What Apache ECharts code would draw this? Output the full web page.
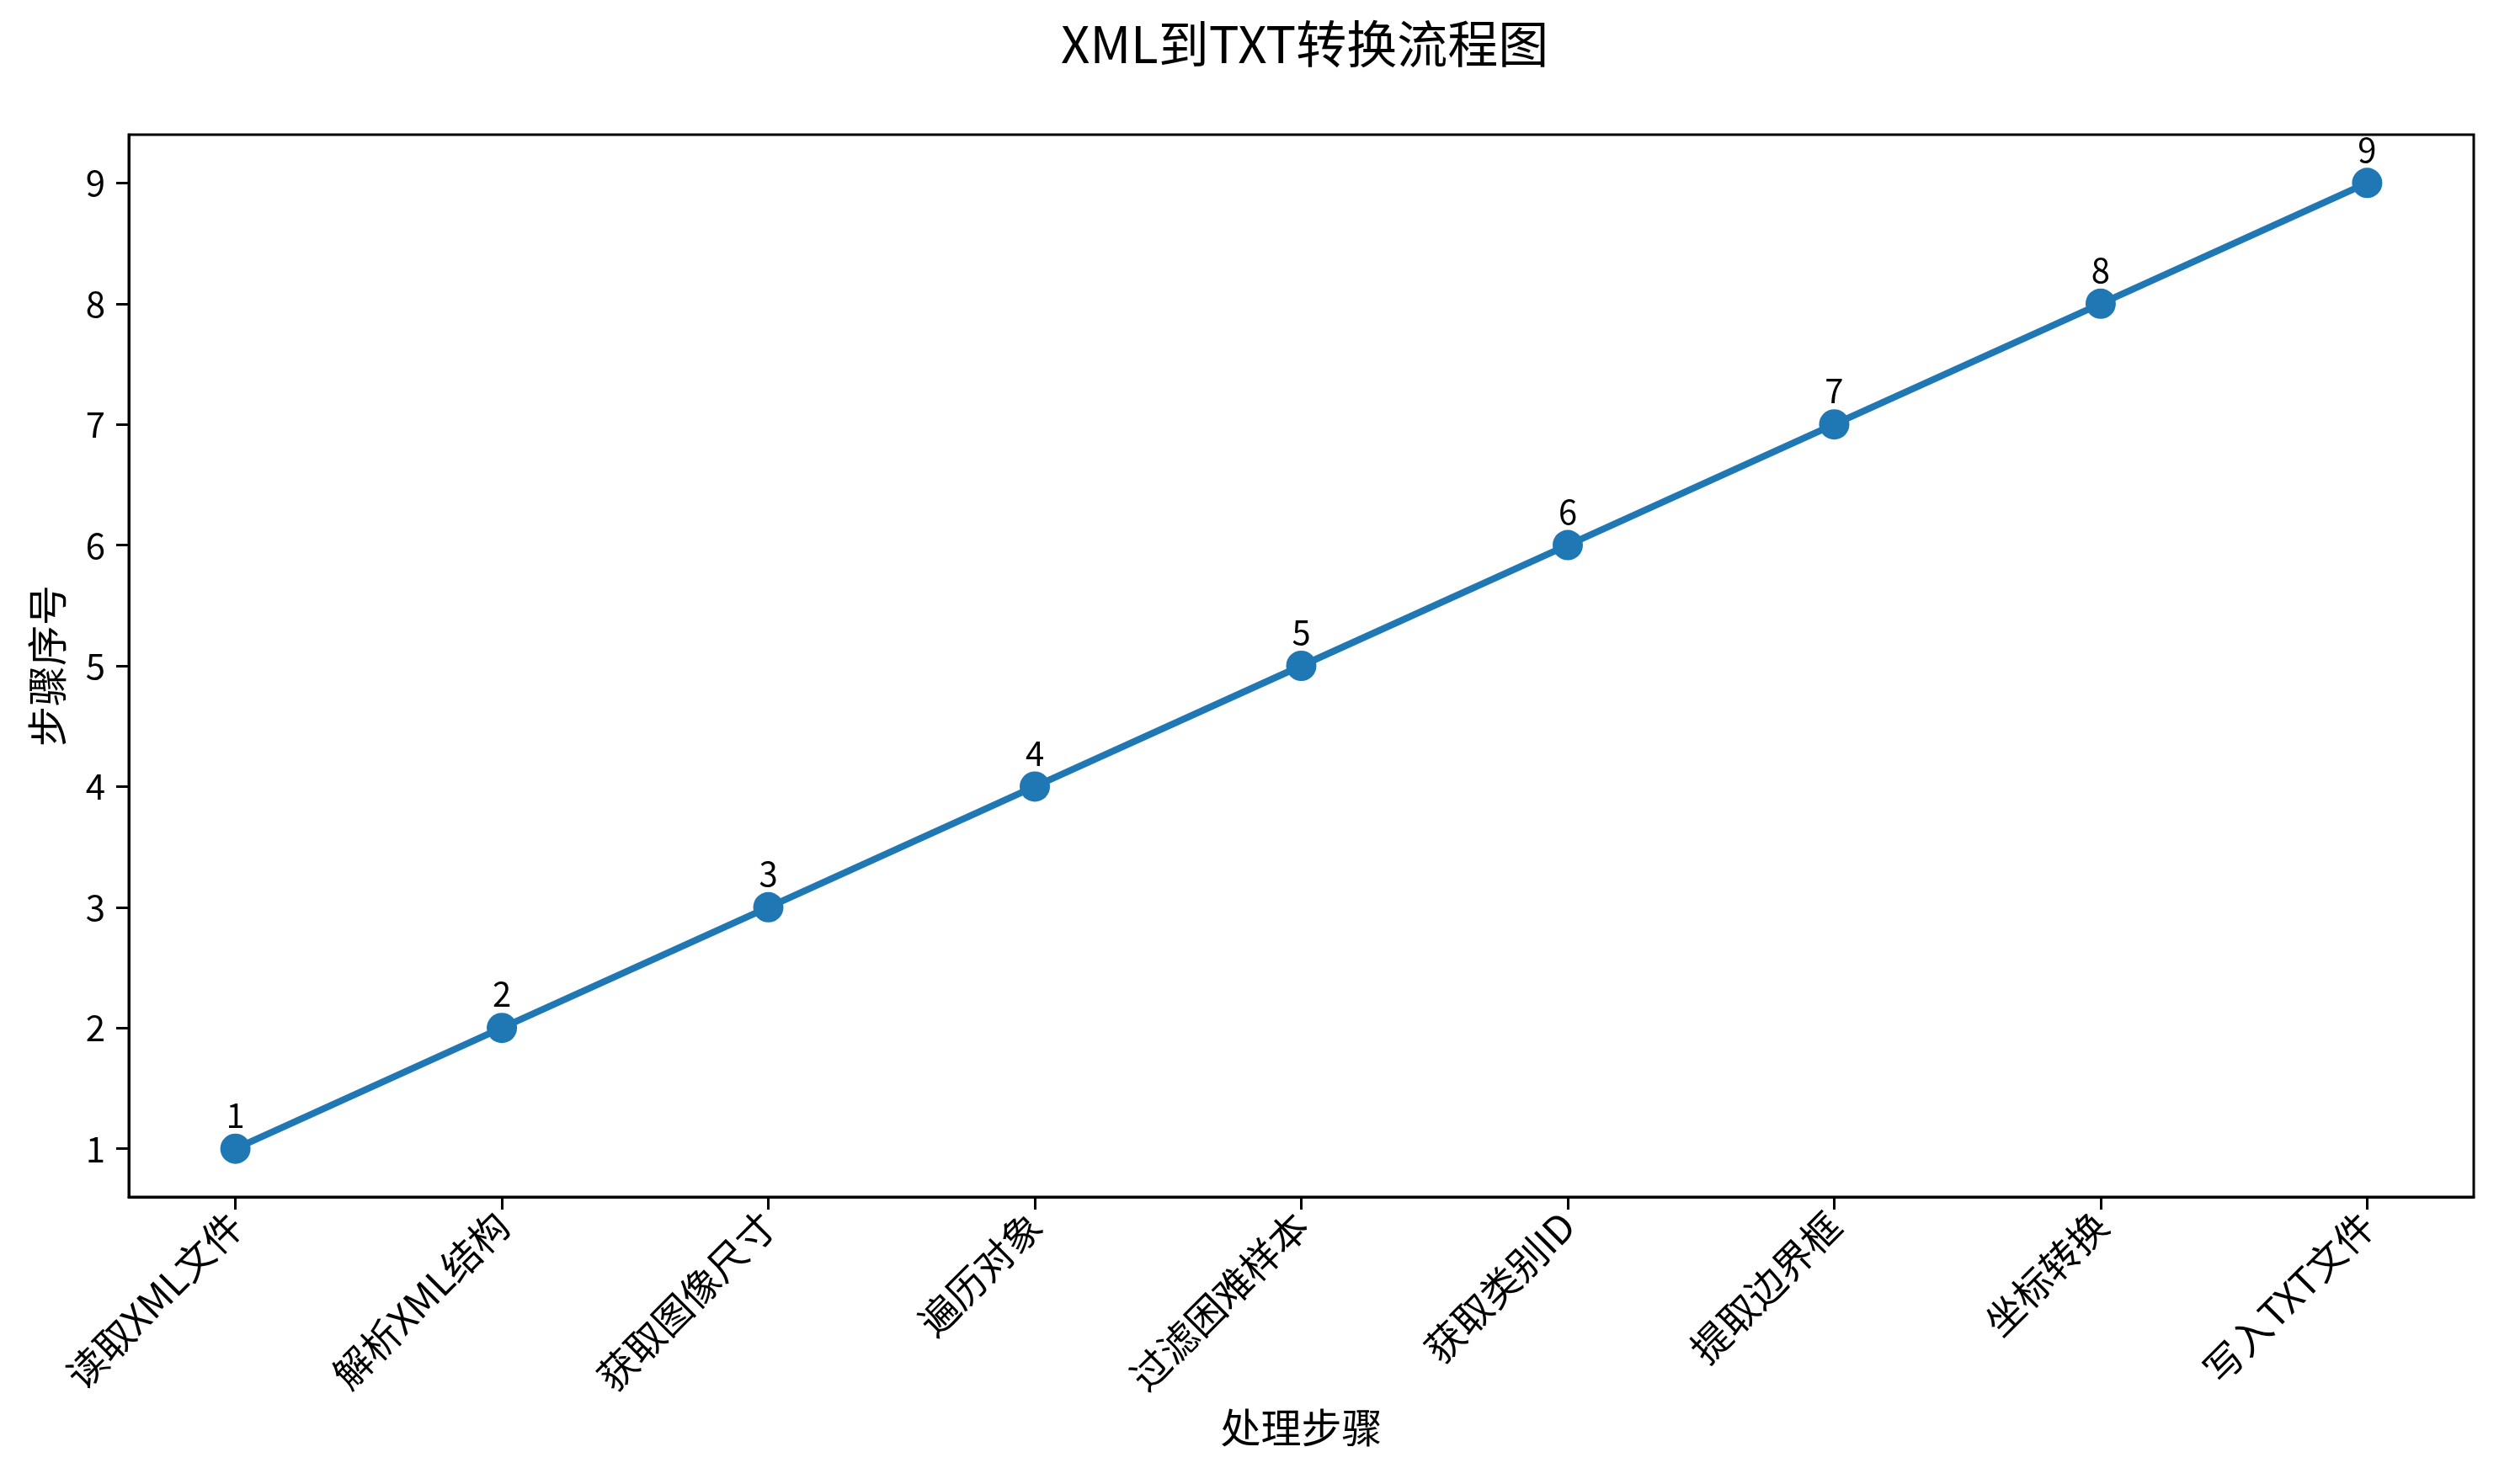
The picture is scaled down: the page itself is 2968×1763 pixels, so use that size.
<!DOCTYPE html>
<html><head><meta charset="utf-8">
<script src="https://cdn.jsdelivr.net/npm/echarts@6/dist/echarts.min.js"></script>
<style>html,body{margin:0;padding:0;background:#fff}#c{width:2968px;height:1763px}</style>
</head><body><div id="c"></div>
<script>
const categories = ['读取XML文件','解析XML结构','获取图像尺寸','遍历对象','过滤困难样本','获取类别ID','提取边界框','坐标转换','写入TXT文件'];
const stepValues = [1,2,3,4,5,6,7,8,9];
const yTicks = [1,2,3,4,5,6,7,8,9];
const xTicks = categories.map((c,i)=>i);

const FONT = '"Noto Sans CJK SC","Noto Sans",sans-serif';
const chart = echarts.init(document.getElementById('c'));
chart.setOption({
  backgroundColor:'#fff',
  animation:false,
  title:{text:'XML到TXT转换流程图', left:1260, top:22, padding:0,
    textStyle:{fontFamily:FONT, fontSize:60, fontWeight:'normal', color:'#000'}},
  grid:{left:153, right:30, top:160, bottom:341, show:true, borderColor:'#000', borderWidth:3, backgroundColor:'transparent'},
  xAxis:{type:'value', min:-0.4, max:8.4,
    name:'处理步骤', nameLocation:'middle', nameGap:250,
    nameTextStyle:{fontFamily:FONT, fontSize:48, color:'#000'},
    axisLine:{show:true, onZero:false, lineStyle:{color:'#000', width:3}},
    axisTick:{show:true, length:15, lineStyle:{color:'#000', width:3}, customValues:xTicks},
    axisLabel:{rotate:45, fontFamily:FONT, fontSize:46, color:'#000', margin:26, customValues:xTicks,
      formatter:v=>categories[Math.round(v)]},
    splitLine:{show:false}},
  yAxis:{type:'value', min:0.6, max:9.4,
    name:'步骤序号', nameLocation:'middle', nameGap:73,
    nameTextStyle:{fontFamily:FONT, fontSize:48, color:'#000'},
    axisLine:{show:true, onZero:false, lineStyle:{color:'#000', width:3}},
    axisTick:{show:true, length:15, lineStyle:{color:'#000', width:3}, customValues:yTicks},
    axisLabel:{fontFamily:FONT, fontSize:42, color:'#000', margin:28, customValues:yTicks},
    splitLine:{show:false}},
  series:[{type:'line', data:stepValues.map((v,i)=>[i,v]),
    symbol:'circle', symbolSize:36,
    lineStyle:{color:'#1f77b4', width:8},
    itemStyle:{color:'#1f77b4'},
    label:{show:true, position:'top', distance:2, fontFamily:FONT, fontSize:40, color:'#000',
      formatter:p=>String(p.value[1])}}]
});
</script></body></html>
